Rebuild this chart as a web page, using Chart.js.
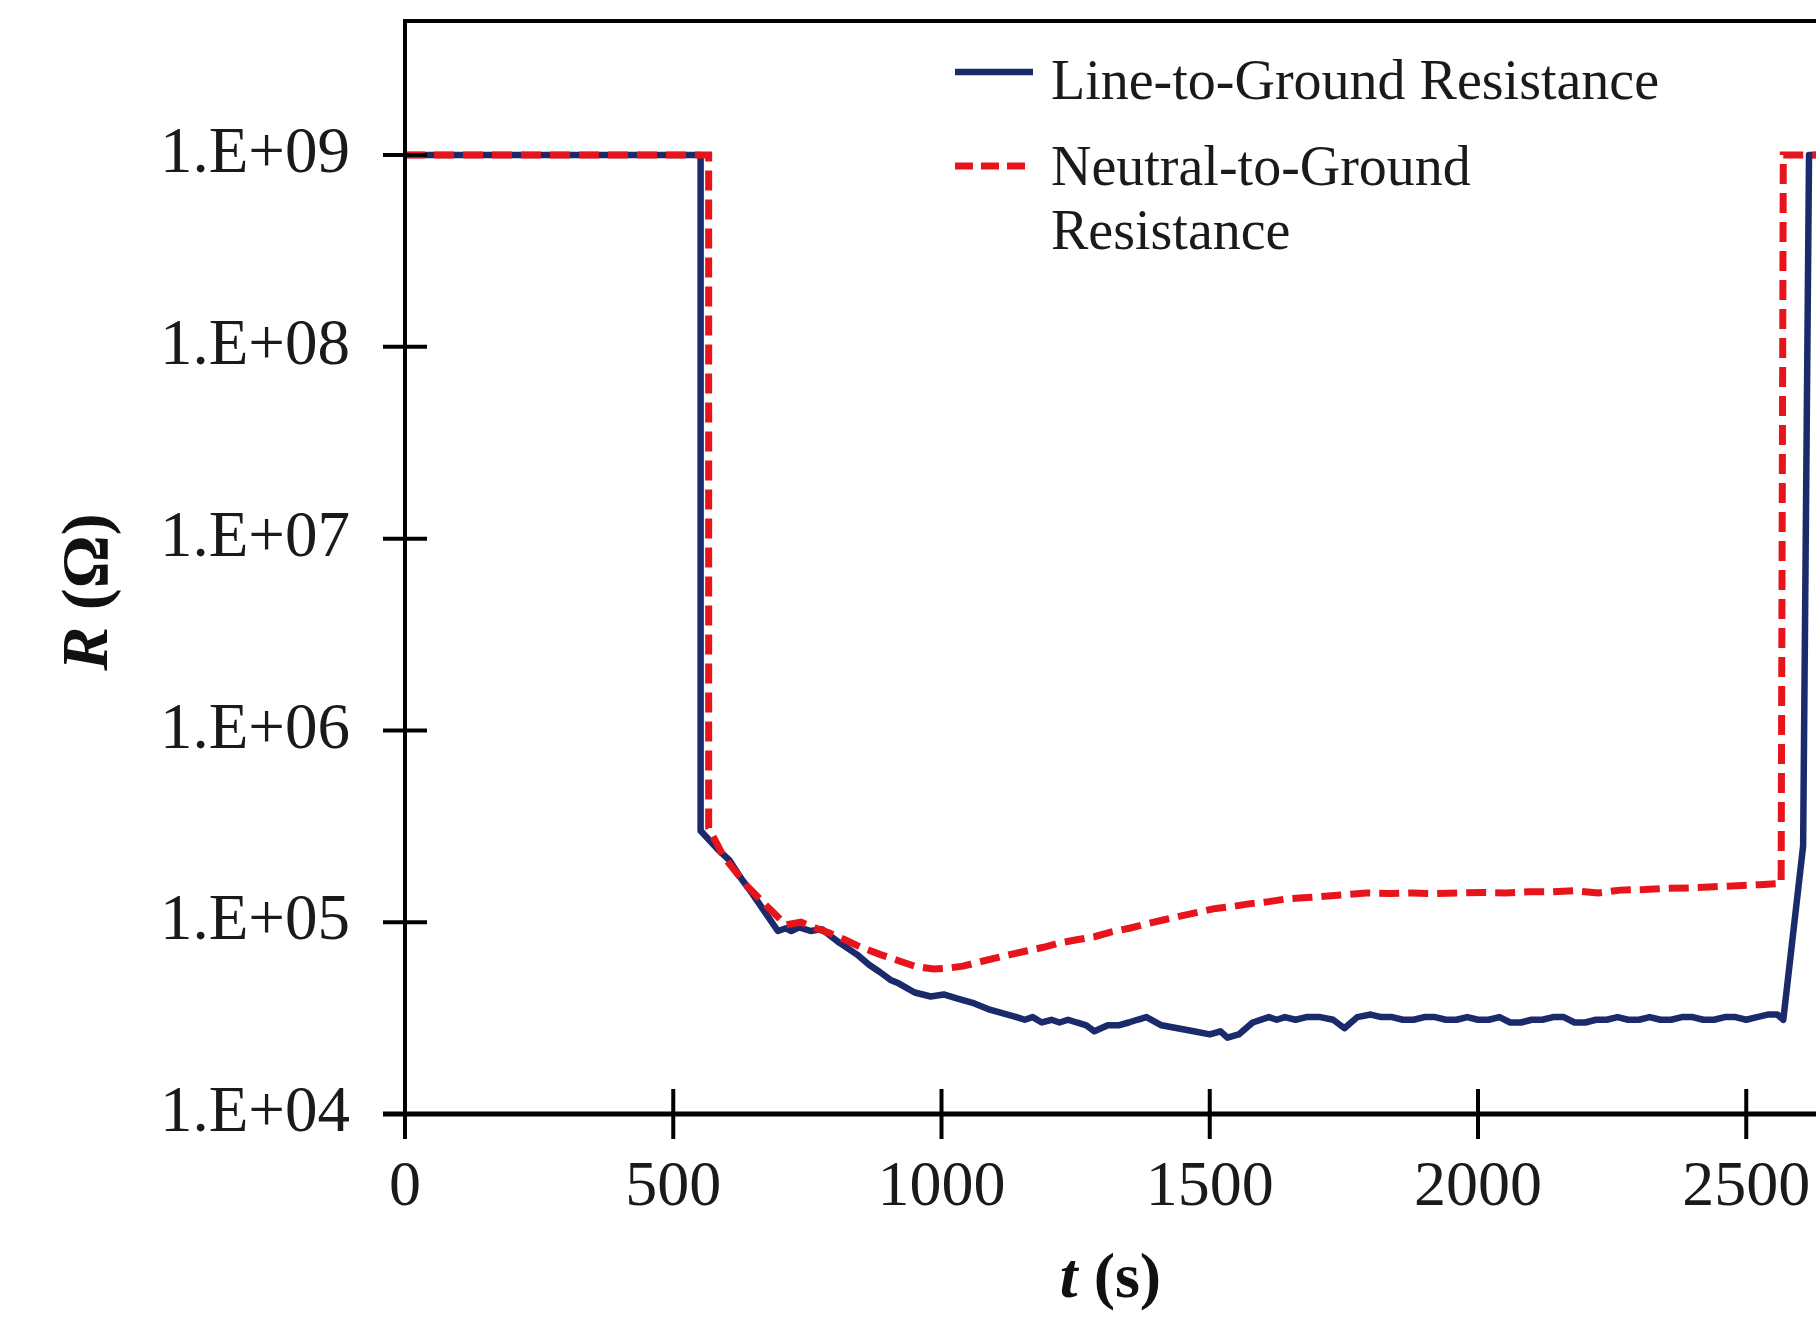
<!DOCTYPE html>
<html>
<head>
<meta charset="utf-8">
<script src="https://cdn.jsdelivr.net/npm/chart.js@4.4.1/dist/chart.umd.min.js"></script>
<style>
  html, body { margin: 0; padding: 0; background: #fff; }
</style>
</head>
<body>
<canvas id="myChart" width="1816" height="1322"></canvas>
<script>
// tick labels
const xTicks = [0, 500, 1000, 1500, 2000, 2500];
const yTicks = [1e4, 1e5, 1e6, 1e7, 1e8, 1e9];

// Line-to-Ground resistance (ohm) vs time (s)
const lineTime = [0, 551, 551, 583, 605, 626, 648, 669, 695, 710, 720, 735, 756, 777, 795, 810, 842, 865, 885, 905, 920, 950, 980,
  1004, 1030, 1058, 1090, 1123, 1140, 1155, 1170, 1187, 1205, 1220, 1236, 1252, 1270, 1285, 1310, 1330, 1349, 1365, 1382, 1410, 1440, 1470,
  1500, 1520, 1533, 1554, 1580, 1610, 1625, 1640, 1660, 1680, 1706, 1730, 1751, 1775, 1800, 1820, 1840, 1860, 1880, 1900, 1920, 1940, 1960,
  1980, 2000, 2020, 2040, 2060, 2080, 2100, 2120, 2140, 2160, 2180, 2200, 2220, 2240, 2260, 2280, 2300, 2320, 2340, 2360, 2380, 2400, 2420, 2440,
  2460, 2480, 2500, 2520, 2540, 2558, 2569, 2606, 2617, 2630];
const lineRes = [1e9, 1e9, 3.0e5, 2.4e5, 2.1e5, 1.7e5, 1.4e5, 1.15e5, 9.0e4, 9.3e4, 9.0e4, 9.4e4, 9.0e4, 9.2e4, 8.4e4, 7.8e4, 6.8e4, 6.0e4, 5.5e4, 5.0e4, 4.8e4, 4.3e4, 4.1e4,
  4.2e4, 4.0e4, 3.8e4, 3.5e4, 3.3e4, 3.2e4, 3.1e4, 3.2e4, 3.0e4, 3.1e4, 3.0e4, 3.1e4, 3.0e4, 2.9e4, 2.7e4, 2.9e4, 2.9e4, 3.0e4, 3.1e4, 3.2e4, 2.9e4, 2.8e4, 2.7e4,
  2.6e4, 2.7e4, 2.5e4, 2.6e4, 3.0e4, 3.2e4, 3.1e4, 3.2e4, 3.1e4, 3.2e4, 3.2e4, 3.1e4, 2.8e4, 3.2e4, 3.3e4, 3.2e4, 3.2e4, 3.1e4, 3.1e4, 3.2e4, 3.2e4, 3.1e4, 3.1e4,
  3.2e4, 3.1e4, 3.1e4, 3.2e4, 3.0e4, 3.0e4, 3.1e4, 3.1e4, 3.2e4, 3.2e4, 3.0e4, 3.0e4, 3.1e4, 3.1e4, 3.2e4, 3.1e4, 3.1e4, 3.2e4, 3.1e4, 3.1e4, 3.2e4, 3.2e4, 3.1e4, 3.1e4,
  3.2e4, 3.2e4, 3.1e4, 3.2e4, 3.3e4, 3.3e4, 3.1e4, 2.5e5, 1e9, 1e9];

// Neutral-to-Ground resistance (ohm) vs time (s)
const neutralTime = [0, 566, 566, 594, 637, 680, 710, 738, 766, 790, 820, 850, 885, 920, 950, 985,
  1010, 1040, 1070, 1100, 1130, 1160, 1190, 1220, 1252, 1285, 1317, 1350, 1382, 1415, 1447, 1480,
  1511, 1545, 1576, 1610, 1641, 1675, 1706, 1750, 1792, 1835, 1878, 1920, 1965, 2010, 2051, 2095,
  2137, 2180, 2224, 2265, 2310, 2350, 2396, 2440, 2483, 2525, 2565, 2569, 2630];
const neutralRes = [1e9, 1e9, 3.1e5, 2.2e5, 1.55e5, 1.17e5, 9.7e4, 1.0e5, 9.3e4, 8.8e4, 8.1e4, 7.4e4, 6.8e4, 6.3e4, 5.9e4, 5.7e4,
  5.75e4, 5.9e4, 6.2e4, 6.5e4, 6.8e4, 7.1e4, 7.4e4, 7.8e4, 8.1e4, 8.4e4, 8.9e4, 9.3e4, 9.8e4, 1.03e5, 1.08e5, 1.13e5,
  1.18e5, 1.21e5, 1.25e5, 1.28e5, 1.32e5, 1.34e5, 1.36e5, 1.39e5, 1.42e5, 1.41e5, 1.42e5, 1.41e5, 1.42e5, 1.43e5, 1.42e5, 1.44e5,
  1.44e5, 1.46e5, 1.42e5, 1.47e5, 1.48e5, 1.50e5, 1.51e5, 1.53e5, 1.55e5, 1.57e5, 1.59e5, 1e9, 1e9];

const NAVY = '#1b2a6b';
const RED = '#e8141b';
const SERIF = '"Liberation Serif", "Times New Roman", serif';

function pts(xs, ys) {
  return xs.map((t, i) => ({ x: t, y: ys[i] }));
}

function noPad(s) {
  s.paddingTop = 0;
  s.paddingBottom = 0;
  s.paddingLeft = 0;
  s.paddingRight = 0;
}

// axes frame, crossing tick marks, titles and legend
const decor = {
  id: 'decor',
  afterDatasetsDraw(chart) {
    const { ctx, chartArea: a, scales: { x, y } } = chart;
    ctx.save();
    ctx.strokeStyle = '#000';
    ctx.lineCap = 'butt';

    ctx.lineWidth = 4;
    ctx.beginPath();
    ctx.moveTo(a.left - 2, a.top);
    ctx.lineTo(a.right, a.top);
    ctx.moveTo(a.left, a.top);
    ctx.lineTo(a.left, a.bottom);
    ctx.stroke();

    ctx.lineWidth = 5;
    ctx.beginPath();
    ctx.moveTo(a.left - 22, a.bottom);
    ctx.lineTo(a.right, a.bottom);
    ctx.stroke();

    ctx.lineWidth = 4;
    ctx.beginPath();
    xTicks.forEach(v => {
      const px = x.getPixelForValue(v);
      ctx.moveTo(px, a.bottom - 25);
      ctx.lineTo(px, a.bottom + 25);
    });
    yTicks.forEach(v => {
      const py = y.getPixelForValue(v);
      ctx.moveTo(a.left - 22, py);
      ctx.lineTo(a.left + 22, py);
    });
    ctx.stroke();

    // axis titles
    ctx.fillStyle = '#111';
    ctx.textBaseline = 'middle';
    const cx = (a.left + a.right) / 2;
    ctx.font = 'italic bold 64px ' + SERIF;
    const tW = ctx.measureText('t ').width;
    ctx.font = 'bold 64px ' + SERIF;
    const sW = ctx.measureText('(s)').width;
    let sx = cx - (tW + sW) / 2;
    ctx.textAlign = 'left';
    ctx.font = 'italic bold 64px ' + SERIF;
    ctx.fillText('t ', sx, 1280);
    ctx.font = 'bold 64px ' + SERIF;
    ctx.fillText('(s)', sx + tW, 1280);

    ctx.translate(90, 592);
    ctx.rotate(-Math.PI / 2);
    ctx.font = 'italic bold 66px ' + SERIF;
    const rW = ctx.measureText('R ').width;
    ctx.font = 'bold 66px ' + SERIF;
    const oW = ctx.measureText('(Ω)').width;
    sx = -(rW + oW) / 2;
    ctx.font = 'italic bold 66px ' + SERIF;
    ctx.fillText('R ', sx, 0);
    ctx.font = 'bold 66px ' + SERIF;
    ctx.fillText('(Ω)', sx + rW, 0);
    ctx.setTransform(1, 0, 0, 1, 0, 0);

    // legend
    ctx.lineWidth = 6.5;
    ctx.strokeStyle = NAVY;
    ctx.beginPath();
    ctx.moveTo(955, 72);
    ctx.lineTo(1033, 72);
    ctx.stroke();
    ctx.strokeStyle = RED;
    ctx.lineWidth = 7;
    ctx.setLineDash([18, 8]);
    ctx.beginPath();
    ctx.moveTo(955, 166);
    ctx.lineTo(1033, 166);
    ctx.stroke();
    ctx.setLineDash([]);

    ctx.fillStyle = '#1a1a1a';
    ctx.font = '56px ' + SERIF;
    ctx.textBaseline = 'alphabetic';
    ctx.fillText('Line-to-Ground Resistance', 1051, 99);
    ctx.fillText('Neutral-to-Ground', 1051, 185);
    ctx.fillText('Resistance', 1051, 249);
    ctx.restore();
  }
};

const config = {
  type: 'line',
  data: {
    datasets: [{
      label: 'Neutral-to-Ground Resistance',
      data: pts(neutralTime, neutralRes),
      borderColor: RED,
      backgroundColor: RED,
      borderWidth: 7,
      borderDash: [20, 9],
      borderCapStyle: 'butt',
      pointRadius: 0,
      tension: 0,
      order: 0
    }, {
      label: 'Line-to-Ground Resistance',
      data: pts(lineTime, lineRes),
      borderColor: NAVY,
      backgroundColor: NAVY,
      borderWidth: 6.5,
      borderJoinStyle: 'round',
      pointRadius: 0,
      tension: 0,
      order: 1
    }]
  },
  options: {
    responsive: false,
    animation: false,
    layout: { padding: { top: 21, right: 0, left: 0, bottom: 0 } },
    plugins: {
      legend: { display: false },
      tooltip: { enabled: false }
    },
    scales: {
      x: {
        type: 'linear',
        min: 0,
        max: 2630,
        afterBuildTicks: s => { s.ticks = xTicks.map(v => ({ value: v })); },
        afterFit: s => { s.height = 208; noPad(s); },
        grid: { display: false, drawTicks: false },
        border: { display: false },
        ticks: {
          padding: 36,
          maxRotation: 0,
          color: '#1a1a1a',
          font: { family: SERIF, size: 64 },
          callback: v => String(v)
        }
      },
      y: {
        type: 'logarithmic',
        min: 1e4,
        max: 5e9,
        afterBuildTicks: s => { s.ticks = yTicks.map(v => ({ value: v })); },
        afterFit: s => { s.width = 405; noPad(s); },
        grid: { display: false, drawTicks: false },
        border: { display: false },
        ticks: {
          padding: 55,
          color: '#1a1a1a',
          font: { family: SERIF, size: 65 },
          callback: v => '1.E+' + String(Math.round(Math.log10(v))).padStart(2, '0')
        }
      }
    }
  },
  plugins: [decor]
};

const myChart = new Chart(document.getElementById('myChart'), config);
</script>
</body>
</html>
